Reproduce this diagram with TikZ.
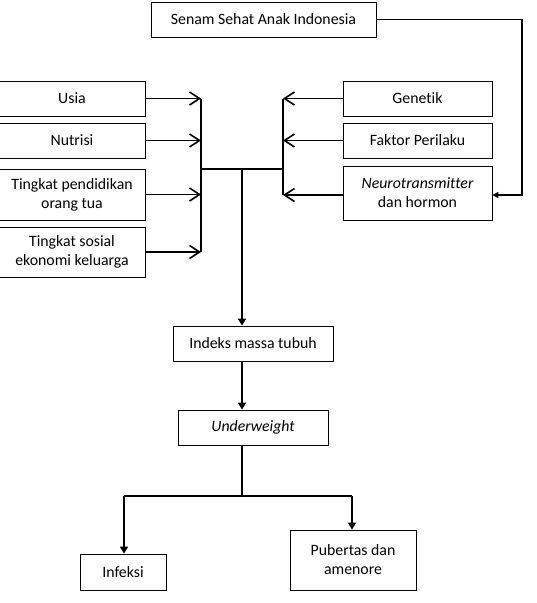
\documentclass[tikz,border=0pt]{standalone}
\usepackage{fontspec}
\setmainfont{Carlito}[Ligatures=NoCommon]
\usetikzlibrary{arrows.meta}
\begin{document}
\begin{tikzpicture}[x=1pt,y=-1pt,
  box/.style={draw, line width=0.8pt, inner sep=0pt, align=center, font=\fontsize{15.8}{19}\selectfont},
  conn/.style={line width=1.6pt},
  openarr/.style={conn, -{Straight Barb[length=10pt,width=13pt,line width=1.6pt]}},
  fillarr/.style={conn, -{Triangle[length=7pt,width=8pt]}},
  smallarr/.style={conn, -{Triangle[length=6pt,width=6pt]}}]
\useasboundingbox (0,0) rectangle (537,603);
% boxes
\node[box, minimum width=225pt, minimum height=35pt] (senam) at (263.5,19.5) {Senam Sehat Anak Indonesia};
\node[box, minimum width=146pt, minimum height=35pt] (usia) at (72,98.5) {Usia};
\node[box, minimum width=146pt, minimum height=35pt] (nutrisi) at (72,140.5) {Nutrisi};
\node[box, minimum width=146pt, minimum height=51pt] (didik) at (72,194.5) {Tingkat pendidikan\\orang tua};
\node[box, minimum width=146pt, minimum height=50pt] (sosial) at (72,252) {Tingkat sosial\\ekonomi keluarga};
\node[box, minimum width=149pt, minimum height=35pt] (genetik) at (417.5,98.5) {Genetik};
\node[box, minimum width=149pt, minimum height=35pt] (faktor) at (417.5,140.5) {Faktor Perilaku};
\node[box, minimum width=149pt, minimum height=54pt] (neuro) at (417.5,193) {{\itshape Neurotransmitter}\\dan hormon};
\node[box, minimum width=160pt, minimum height=35pt] (imt) at (253,343.5) {Indeks massa tubuh};
\node[box, minimum width=150pt, minimum height=35pt] (under) at (253,427.5) {\itshape Underweight};
\node[box, minimum width=86pt, minimum height=36pt] (infeksi) at (123,572) {Infeksi};
\node[box, minimum width=126pt, minimum height=60pt] (pubertas) at (353,560) {Pubertas dan\\amenore};
% connector coordinates
\coordinate (lbar) at (201,0);
\coordinate (rbar) at (283,0);
\coordinate (jl) at (201,169);
\coordinate (jr) at (283,169);
\coordinate (stem) at (242,169);
\coordinate (split) at (242,496);
\coordinate (sl) at (124,496);
\coordinate (sr) at (352,496);
\coordinate (sc) at (522,19.5);
% left side
\draw[openarr] (usia.east) -- (usia.east -| lbar);
\draw[openarr] (nutrisi.east) -- (nutrisi.east -| lbar);
\draw[openarr] (didik.east) -- (didik.east -| lbar);
\draw[openarr] (sosial.east) -- (sosial.east -| lbar);
\draw[conn] (usia.east -| lbar) -- (sosial.east -| lbar);
% right side
\draw[openarr] (genetik.west) -- (genetik.west -| rbar);
\draw[openarr] (faktor.west) -- (faktor.west -| rbar);
\draw[openarr] (neuro.west |- 0,195) -- (283,195);
\draw[conn] (genetik.west -| rbar) -- (283,195);
% junction and stem
\draw[conn] (jl) -- (jr);
\draw[fillarr] (stem) -- (stem |- imt.north);
\draw[fillarr] (stem |- imt.south) -- (stem |- under.north);
\draw[conn] (stem |- under.south) -- (split);
\draw[conn] (sl) -- (sr);
\draw[fillarr] (sl) -- (sl |- infeksi.north);
\draw[fillarr] (sr) -- (sr |- pubertas.north);
% senam
\draw[smallarr] (senam.east) -- (sc) |- (neuro.east |- 0,195);
\end{tikzpicture}
\end{document}
